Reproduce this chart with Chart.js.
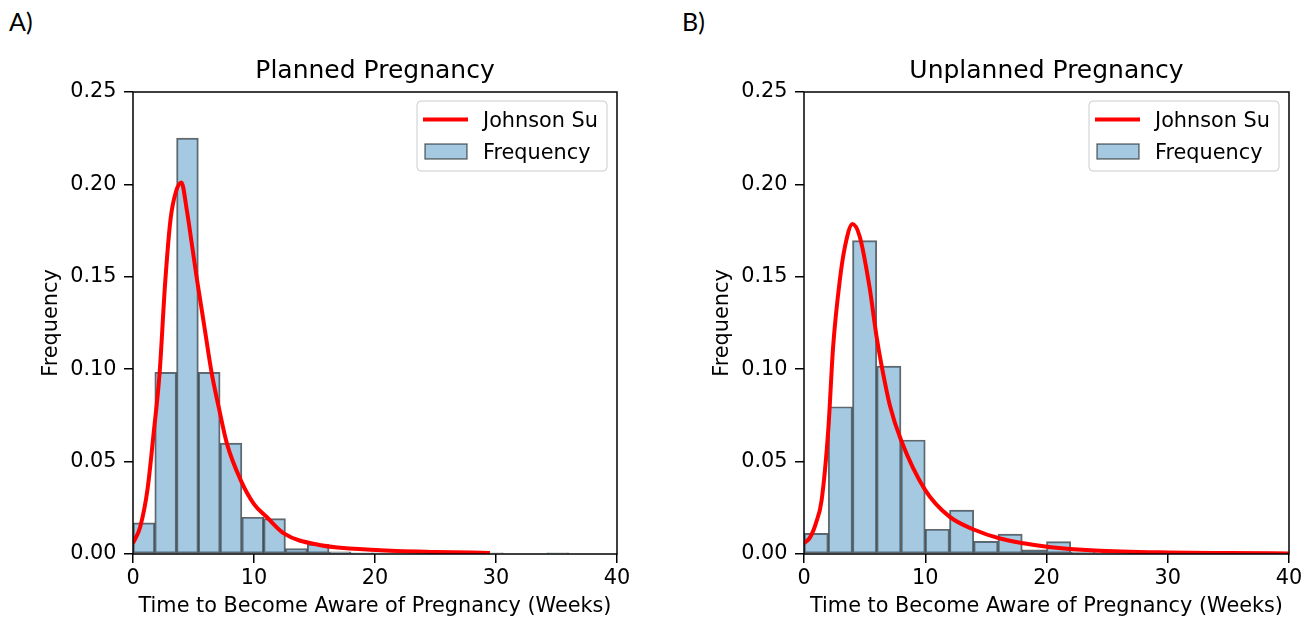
<!DOCTYPE html>
<html>
<head>
<meta charset="utf-8">
<script src="https://cdn.jsdelivr.net/npm/chart.js@4.4.0/dist/chart.umd.min.js"></script>
<style>
  body { margin: 0; background: #fff; width: 1309px; height: 619px; overflow: hidden; position: relative; }
  canvas { position: absolute; top: 0; }
  .panel-label { position: absolute; font-family: Lato, sans-serif; font-size: 25px; line-height: 25px; color: #000; }
</style>
</head>
<body>
<div class="panel-label" style="left:9px; top:9px;">A)</div>
<div class="panel-label" style="left:682px; top:9px;">B)</div>
<canvas id="plannedChart" width="654" height="619" style="left:0"></canvas>
<canvas id="unplannedChart" width="655" height="619" style="left:654px"></canvas>
<script>
// Shared axis ticks
const weekTicks = [0, 10, 20, 30, 40];
const freqTicks = [0, 0.05, 0.10, 0.15, 0.20, 0.25];

// Planned pregnancy histogram (bin edges in weeks) and fitted curve
const plannedBinEdges = [0, 1.8, 3.6, 5.4, 7.2, 9.0, 10.8, 12.6, 14.4, 16.2, 18.0,
                         19.8, 21.6, 23.4, 25.2, 27.0, 28.8, 30.6, 32.4, 34.2, 36.0];
const plannedFreq = [0.0169, 0.0983, 0.225, 0.0983, 0.060, 0.0199, 0.0191, 0.0029, 0.0054, 0.0012,
                     0.0006, 0.0006, 0, 0.0006, 0, 0.0006, 0.0006, 0, 0, 0.0006];
const plannedFitWeeks = [0, 0.6, 1.2, 1.7, 2.2, 2.65, 3.1, 3.55, 4.0, 4.45, 4.9, 5.3,
                         5.9, 6.5, 7.1, 7.75, 8.9, 10.0, 11.05, 12.5, 15.4, 20.1, 25, 29.5];
const plannedFitDensity = [0.0058, 0.0148, 0.035, 0.065, 0.098, 0.146, 0.181, 0.196, 0.201, 0.186, 0.166, 0.148,
                           0.123, 0.098, 0.079, 0.060, 0.040, 0.027, 0.020, 0.011, 0.0049, 0.0022, 0.0011, 0.0006];

// Unplanned pregnancy histogram and fitted curve
const unplannedBinEdges = [0, 2, 4, 6, 8, 10, 12, 14, 16, 18, 20,
                           22, 24, 26, 28, 30, 32, 34, 36, 38, 40];
const unplannedFreq = [0.0112, 0.0797, 0.1696, 0.1017, 0.0617, 0.0134, 0.0238, 0.0069, 0.0108, 0.0022,
                       0.0067, 0.0012, 0.0008, 0.0004, 0, 0.0004, 0, 0, 0, 0.0004];
const unplannedFitWeeks = [0, 0.5, 1.0, 1.45, 2.0, 2.4, 2.95, 3.4, 4.0, 4.6, 5.4, 6.0,
                           6.4, 7.1, 8.0, 10.0, 12.0, 14.1, 16.1, 18.1, 20.2, 24, 30, 35, 40];
const unplannedFitDensity = [0.0058, 0.009, 0.017, 0.029, 0.067, 0.112, 0.148, 0.167, 0.1786, 0.1717, 0.1446, 0.117,
                             0.102, 0.080, 0.0617, 0.0346, 0.0202, 0.013, 0.0085, 0.0058, 0.0038, 0.0019, 0.0008, 0.0005, 0.0003];

const FONT = 'DejaVu Sans';
const BAR_FILL = 'rgba(31, 119, 180, 0.4)';
const BAR_EDGE = 'rgba(0, 0, 0, 0.6)';

// Axes frame drawn above the bars, like matplotlib spines
const framePlugin = {
    id: 'frame',
    afterDatasetsDraw(chart) {
        const { ctx, chartArea } = chart;
        ctx.save();
        ctx.strokeStyle = '#000';
        ctx.lineWidth = 1.5;
        ctx.strokeRect(chartArea.left, chartArea.top, chartArea.right - chartArea.left, chartArea.bottom - chartArea.top);
        ctx.restore();
    }
};

// Legend box in the upper right corner of the plot area
const boxLegendPlugin = {
    id: 'boxLegend',
    afterDraw(chart) {
        const { ctx, chartArea } = chart;
        const w = 190, h = 70;
        const x = chartArea.right - 10 - w;
        const y = chartArea.top + 9;
        ctx.save();
        ctx.beginPath();
        ctx.roundRect(x, y, w, h, 4);
        ctx.fillStyle = 'rgba(255, 255, 255, 0.8)';
        ctx.fill();
        ctx.strokeStyle = '#cccccc';
        ctx.lineWidth = 1;
        ctx.stroke();

        ctx.beginPath();
        ctx.moveTo(x + 6, y + 18.5);
        ctx.lineTo(x + 51, y + 18.5);
        ctx.strokeStyle = '#ff0000';
        ctx.lineWidth = 4;
        ctx.stroke();

        ctx.fillStyle = '#ffffff';
        ctx.fillRect(x + 8, y + 43, 42, 15);
        ctx.fillStyle = BAR_FILL;
        ctx.fillRect(x + 8, y + 43, 42, 15);
        ctx.strokeStyle = BAR_EDGE;
        ctx.lineWidth = 1.3;
        ctx.strokeRect(x + 8, y + 43, 42, 15);

        ctx.fillStyle = '#000';
        ctx.font = '20.8px "' + FONT + '"';
        ctx.textBaseline = 'alphabetic';
        ctx.textAlign = 'left';
        ctx.fillText('Johnson Su', x + 66, y + 26.3);
        ctx.fillText('Frequency', x + 66, y + 58);
        ctx.restore();
    }
};

function makeChart(canvasId, title, binEdges, freq, fitWeeks, fitDensity, padLeft, padRight) {
    const ctx = document.getElementById(canvasId);

    const barPoints = freq.map((v, i) => ({ x: (binEdges[i] + binEdges[i + 1]) / 2, y: v }));
    const fitPoints = fitWeeks.map((w, i) => ({ x: w, y: fitDensity[i] }));

    return new Chart(ctx, {
        type: 'bar',
        data: {
            datasets: [{
                type: 'line',
                label: 'Johnson Su',
                data: fitPoints,
                borderColor: '#ff0000',
                borderWidth: 4,
                pointRadius: 0,
                fill: false,
                cubicInterpolationMode: 'monotone',
                order: 0
            }, {
                type: 'bar',
                label: 'Frequency',
                data: barPoints,
                backgroundColor: BAR_FILL,
                borderColor: BAR_EDGE,
                borderWidth: 1.3,
                borderSkipped: false,
                barPercentage: 1,
                categoryPercentage: 1,
                order: 1
            }]
        },
        options: {
            responsive: false,
            animation: false,
            devicePixelRatio: 1,
            events: [],
            layout: {
                padding: { left: padLeft, right: padRight, top: 0, bottom: 0 }
            },
            scales: {
                x: {
                    type: 'linear',
                    min: 0,
                    max: 40,
                    offset: false,
                    afterFit: (scale) => { scale.height = 65; },
                    afterBuildTicks: (scale) => { scale.ticks = weekTicks.map(v => ({ value: v })); },
                    border: { display: false },
                    grid: { drawOnChartArea: false, offset: false, tickLength: 9, color: '#000', lineWidth: 1.5 },
                    ticks: {
                        padding: 3.5,
                        color: '#000',
                        maxRotation: 0,
                        font: { family: FONT, size: 20.8 },
                        callback: (v) => String(v)
                    },
                    title: {
                        display: true,
                        text: 'Time to Become Aware of Pregnancy (Weeks)',
                        color: '#000',
                        font: { family: FONT, size: 20.8 },
                        padding: { top: 0, bottom: 0 }
                    }
                },
                y: {
                    min: 0,
                    max: 0.25,
                    afterFit: (scale) => { scale.width = 103; },
                    afterBuildTicks: (scale) => { scale.ticks = freqTicks.map(v => ({ value: v })); },
                    border: { display: false },
                    grid: { drawOnChartArea: false, tickLength: 9, color: '#000', lineWidth: 1.5 },
                    ticks: {
                        padding: 7.5,
                        color: '#000',
                        font: { family: FONT, size: 20.8 },
                        callback: (v) => Number(v).toFixed(2)
                    },
                    title: {
                        display: true,
                        text: 'Frequency',
                        color: '#000',
                        font: { family: FONT, size: 20.8 },
                        padding: { top: 9, bottom: 0 }
                    }
                }
            },
            plugins: {
                legend: { display: false },
                tooltip: { enabled: false },
                title: {
                    display: true,
                    text: title,
                    fullSize: false,
                    color: '#000',
                    font: { family: FONT, size: 25, weight: 'normal' },
                    padding: { top: 56, bottom: 6 }
                }
            }
        },
        plugins: [framePlugin, boxLegendPlugin]
    });
}

makeChart('plannedChart', 'Planned Pregnancy', plannedBinEdges, plannedFreq,
          plannedFitWeeks, plannedFitDensity, 30, 37);
makeChart('unplannedChart', 'Unplanned Pregnancy', unplannedBinEdges, unplannedFreq,
          unplannedFitWeeks, unplannedFitDensity, 47, 20);
</script>
</body>
</html>
